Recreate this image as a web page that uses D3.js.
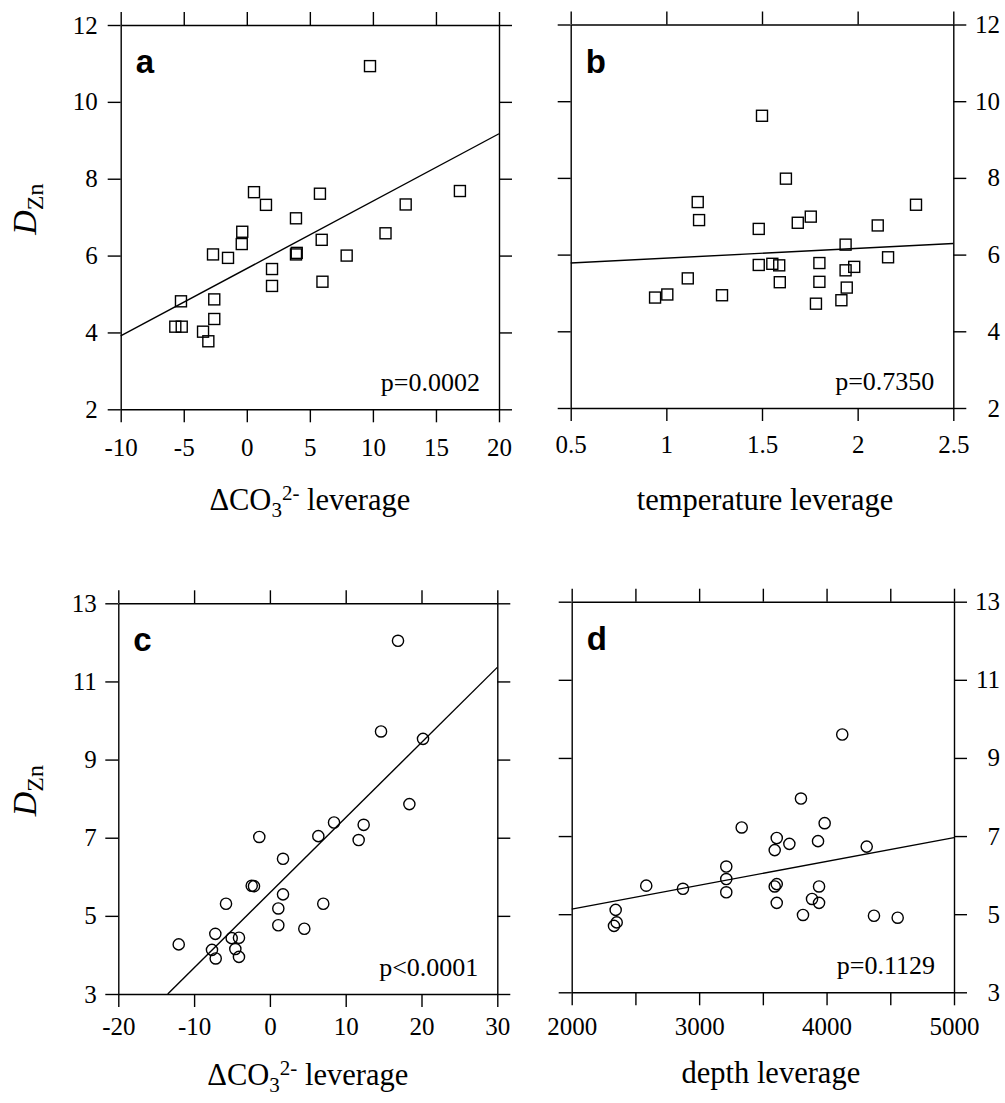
<!DOCTYPE html>
<html><head><meta charset="utf-8">
<script src="https://cdn.jsdelivr.net/npm/d3@7"></script>
<style>body{margin:0;background:#fff;} svg{display:block}</style>
</head><body><svg id="chart" width="1005" height="1103"></svg>
<script>
// ---------- data ----------
// panel a: ΔCO3 leverage vs D_Zn (squares)
const aX = [9.77, 0.57, 1.52, 5.8, 16.9, 12.6, 3.9, -0.36, -0.4, 11.0, 5.94, -2.68, -1.49, 3.9, 3.96, 7.92, 2.0, 2.0, 6.0, -5.22, -2.58, -2.58, -5.67, -5.16, -3.47, -3.05];
const aY = [10.93, 7.65, 7.32, 7.61, 7.68, 7.33, 6.97, 6.62, 6.3, 6.58, 6.41, 6.03, 5.94, 6.03, 6.07, 6.0, 5.65, 5.21, 5.32, 4.81, 4.86, 4.35, 4.15, 4.15, 4.02, 3.77];
const aFit = [[-10, 3.91], [20, 9.17]];
// panel b: temperature leverage (squares)
const bX = [1.5, 1.625, 1.164, 1.171, 1.483, 1.687, 1.755, 2.105, 2.305, 1.937, 2.159, 1.483, 1.554, 1.59, 1.8, 1.982, 1.937, 1.593, 1.8, 1.943, 1.112, 0.941, 1.005, 1.291, 1.782, 1.915];
const bY = [9.62, 7.98, 7.37, 6.9, 6.67, 6.83, 6.99, 6.76, 7.30, 6.26, 5.93, 5.73, 5.76, 5.72, 5.78, 5.68, 5.59, 5.28, 5.29, 5.14, 5.38, 4.88, 4.96, 4.94, 4.72, 4.81];
const bFit = [[0.5, 5.78], [2.5, 6.29]];
// panel c: ΔCO3 leverage (circles)
const cX = [16.9, 14.66, 20.2, 18.4, 8.46, 12.37, 6.39, 11.71, -1.4, 1.73, -2.4, -2.1, 1.73, -5.79, 7.04, 1.11, 1.11, 4.54, -7.2, -5.04, -4.08, -12.03, -7.64, -4.56, -7.15, -4.08];
const cY = [12.04, 9.72, 9.53, 7.86, 7.39, 7.33, 7.04, 6.94, 7.02, 6.46, 5.77, 5.76, 5.55, 5.31, 5.31, 5.19, 4.76, 4.67, 4.54, 4.43, 4.44, 4.27, 4.13, 4.15, 3.91, 3.95];
const cFit = [[-13.48, 3.0], [30, 11.36]];
// panel d: depth leverage (circles)
const dX = [4123, 3799, 3985, 3334, 3609, 3933, 3708, 3593, 4315, 3213, 3213, 3213, 2585, 2873, 3609, 3593, 3941, 3609, 3886, 3941, 3815, 4372, 4558, 2345, 2353, 2332];
const dY = [9.6, 7.96, 7.33, 7.22, 6.95, 6.87, 6.80, 6.64, 6.73, 6.22, 5.90, 5.56, 5.73, 5.65, 5.77, 5.71, 5.71, 5.29, 5.39, 5.29, 4.98, 4.96, 4.91, 5.11, 4.79, 4.70];
const dFit = [[2000, 5.13], [5000, 6.96]];

// tick values and labels
const aXTicks = [-10, -5, 0, 5, 10, 15, 20];
const bXTicks = [0.5, 1, 1.5, 2, 2.5];
const cXTicks = [-20, -10, 0, 10, 20, 30];
const dXTicks = [2000, 2500, 3000, 3500, 4000, 4500, 5000];
const dXLabeled = [2000, 3000, 4000, 5000];
const abYTicks = [2, 4, 6, 8, 10, 12];
const cdYTicks = [3, 5, 7, 9, 11, 13];
const pLabels = ["p=0.0002", "p=0.7350", "p<0.0001", "p=0.1129"];
const panelLetters = ["a", "b", "c", "d"];
const xTitles = ["temperature leverage", "depth leverage"];

// ---------- drawing ----------
const svg = d3.select("#chart");
const SERIF = "'Liberation Serif','Times New Roman',Times,serif";
const SANS = "'Liberation Sans',Arial,Helvetica,sans-serif";
const TICK = 13;

function panel(cfg) {
  const x = d3.scaleLinear().domain(cfg.xDomain).range([cfg.left, cfg.right]);
  const y = d3.scaleLinear().domain(cfg.yDomain).range([cfg.bottom, cfg.top]);
  const g = svg.append("g");
  const fmtX = cfg.xFormat || (d => String(d));

  function style(ax) {
    ax.selectAll("path.domain").attr("stroke", "#000").attr("stroke-width", 1.4);
    ax.selectAll(".tick line").attr("stroke", "#000").attr("stroke-width", 1.4);
    ax.selectAll("text").attr("font-family", SERIF).attr("font-size", 25).attr("fill", "#000");
    ax.attr("font-family", null).attr("font-size", null);
  }
  // bottom
  const axB = g.append("g").attr("transform", `translate(0,${cfg.bottom})`)
    .call(d3.axisBottom(x).tickValues(cfg.xTicks).tickSize(TICK).tickSizeOuter(0).tickPadding(cfg.xPad)
      .tickFormat(d => (cfg.xLabeled ? (cfg.xLabeled.includes(d) ? fmtX(d) : "") : fmtX(d))));
  style(axB);
  // top
  const axT = g.append("g").attr("transform", `translate(0,${cfg.top})`)
    .call(d3.axisTop(x).tickValues(cfg.xTicks).tickSize(TICK).tickSizeOuter(0).tickFormat(""));
  style(axT);
  // left
  const axL = g.append("g").attr("transform", `translate(${cfg.left},0)`)
    .call(d3.axisLeft(y).tickValues(cfg.yTicks).tickSize(TICK).tickSizeOuter(0).tickPadding(cfg.yPad)
      .tickFormat(cfg.yLabelSide === "left" ? (d => String(d)) : ""));
  style(axL);
  // right
  const axR = g.append("g").attr("transform", `translate(${cfg.right},0)`)
    .call(d3.axisRight(y).tickValues(cfg.yTicks).tickSize(TICK).tickSizeOuter(0)
      .tickFormat(cfg.yLabelSide === "right" ? (d => String(d)) : ""));
  style(axR);
  if (cfg.yLabelSide === "right") {
    axR.selectAll("text").attr("text-anchor", "end").attr("x", 1000 - cfg.right);
  }

  // regression line
  g.append("path")
    .attr("d", d3.line().x(d => x(d[0])).y(d => y(d[1]))(cfg.fit))
    .attr("fill", "none").attr("stroke", "#000").attr("stroke-width", 1.4);

  // points
  const pts = cfg.xs.map((v, i) => [v, cfg.ys[i]]);
  if (cfg.shape === "square") {
    g.selectAll("rect.pt").data(pts).enter().append("rect")
      .attr("x", d => x(d[0]) - 5.5).attr("y", d => y(d[1]) - 5.5)
      .attr("width", 11).attr("height", 11)
      .attr("fill", "none").attr("stroke", "#000").attr("stroke-width", 1.4);
  } else {
    g.selectAll("circle.pt").data(pts).enter().append("circle")
      .attr("cx", d => x(d[0])).attr("cy", d => y(d[1])).attr("r", 5.6)
      .attr("fill", "none").attr("stroke", "#000").attr("stroke-width", 1.4);
  }

  // panel letter
  g.append("text").attr("x", cfg.left + 15).attr("y", cfg.top + 48)
    .attr("font-family", SANS).attr("font-weight", "bold").attr("font-size", 33)
    .text(cfg.letter);
  // p value
  g.append("text").attr("x", cfg.right - 19).attr("y", cfg.bottom - 18)
    .attr("text-anchor", "end").attr("font-family", SERIF).attr("font-size", 26)
    .text(cfg.p);

  // x title
  const t = g.append("text").attr("x", (cfg.left + cfg.right) / 2 + (cfg.titleDx || 0)).attr("y", cfg.titleY)
    .attr("text-anchor", "middle").attr("font-family", SERIF).attr("font-size", 30.5);
  if (cfg.title === "dco3") {
    t.append("tspan").text("ΔCO");
    t.append("tspan").attr("font-size", 21).attr("dy", 7).text("3");
    t.append("tspan").attr("font-size", 21).attr("dy", -17).text("2-");
    t.append("tspan").attr("dy", 10).text(" leverage");
  } else {
    t.text(cfg.title);
  }

  // y title
  if (cfg.yLabelSide === "left") {
    const cy = (cfg.top + cfg.bottom) / 2 - 8;
    const yt = g.append("text").attr("transform", `translate(36,${cy}) rotate(-90)`)
      .attr("text-anchor", "middle").attr("font-family", SERIF).attr("font-size", 34);
    yt.append("tspan").attr("font-style", "italic").text("D");
    yt.append("tspan").attr("font-size", 24).attr("dy", 7).text("Zn");
  }
}

panel({ letter: panelLetters[0], xs: aX, ys: aY, fit: aFit, shape: "square",
  xDomain: [-10, 20], yDomain: [2, 12], xTicks: aXTicks, yTicks: abYTicks,
  left: 120.7, right: 499, top: 25, bottom: 409.3, xPad: 16, yPad: 10,
  yLabelSide: "left", p: pLabels[0], title: "dco3", titleY: 510 });
panel({ letter: panelLetters[1], xs: bX, ys: bY, fit: bFit, shape: "square",
  xDomain: [0.5, 2.5], yDomain: [2, 12], xTicks: bXTicks, yTicks: abYTicks,
  left: 570.7, right: 953.3, top: 24.5, bottom: 408, xPad: 14, yPad: 10,
  yLabelSide: "right", p: pLabels[1], title: xTitles[0], titleY: 510, titleDx: 3 });
panel({ letter: panelLetters[2], xs: cX, ys: cY, fit: cFit, shape: "circle",
  xDomain: [-20, 30], yDomain: [3, 13], xTicks: cXTicks, yTicks: cdYTicks,
  left: 118.3, right: 497.3, top: 603.3, bottom: 994, xPad: 10, yPad: 8.5,
  yLabelSide: "left", p: pLabels[2], title: "dco3", titleY: 1085 });
panel({ letter: panelLetters[3], xs: dX, ys: dY, fit: dFit, shape: "circle",
  xDomain: [2000, 5000], yDomain: [3, 13], xTicks: dXTicks, xLabeled: dXLabeled, yTicks: cdYTicks,
  left: 571.7, right: 954, top: 601.7, bottom: 992.3, xPad: 12, yPad: 10,
  yLabelSide: "right", p: pLabels[3], title: xTitles[1], titleY: 1083, titleDx: 8 });
</script>
</body></html>
